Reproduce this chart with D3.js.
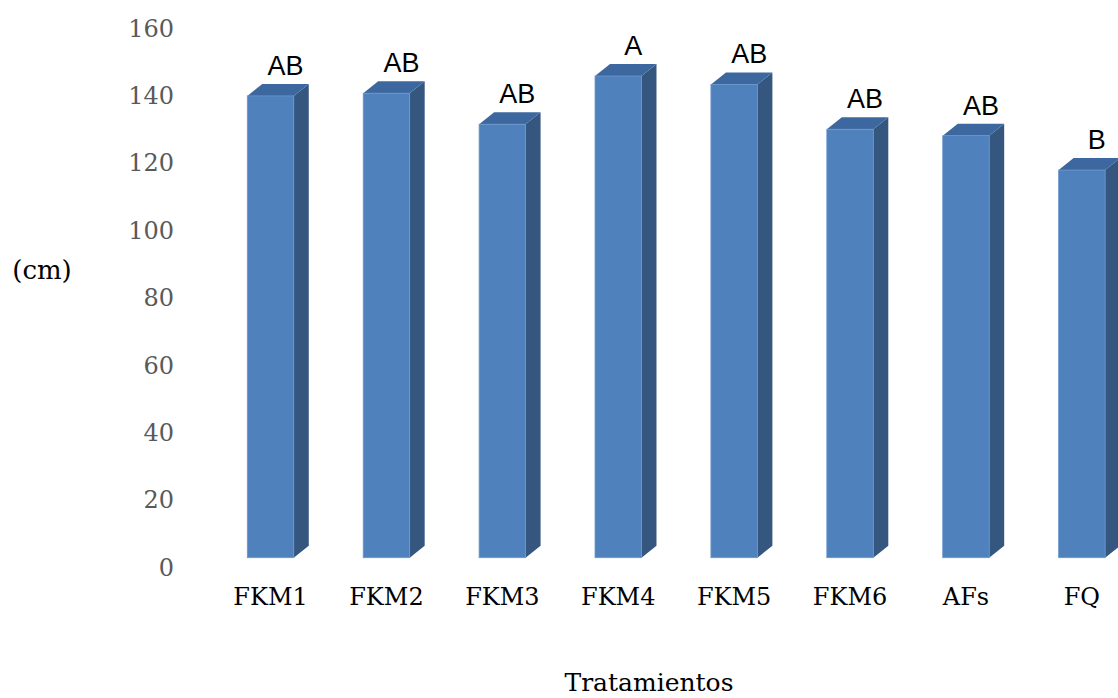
<!DOCTYPE html>
<html>
<head>
<meta charset="utf-8">
<script src="https://cdn.jsdelivr.net/npm/d3@7"></script>
<style>
  html, body { margin: 0; padding: 0; background: #ffffff; }
  svg { display: block; }
</style>
</head>
<body>
<svg id="chart" width="1118" height="698"></svg>
<script>
// ---- data ----
const categories = ["FKM1", "FKM2", "FKM3", "FKM4", "FKM5", "FKM6", "AFs", "FQ"];
const values = [139.7, 140.5, 131.3, 145.6, 143.1, 129.8, 127.9, 117.7];
const letters = ["AB", "AB", "AB", "A", "AB", "AB", "AB", "B"];
const yTicks = [0, 20, 40, 60, 80, 100, 120, 140, 160];
const yAxisTitle = "(cm)";
const xAxisTitle = "Tratamientos";

// ---- layout ----
const svg = d3.select("#chart");
const depthX = 15, depthY = 12, floorLift = 9;

const x = d3.scaleBand()
  .domain(categories)
  .range([247.3, 1105.1])
  .paddingInner(0.599)
  .paddingOuter(0);

const y = d3.scaleLinear().domain([0, 160]).range([566.7, 27.5]);

// y tick labels (no axis line)
const yAxis = d3.axisLeft(y).tickValues(yTicks).tickSize(0).tickPadding(0);
const gy = svg.append("g").attr("transform", "translate(174,0)").call(yAxis);
gy.select(".domain").remove();
gy.selectAll("text")
  .attr("font-family", "'DejaVu Serif', serif")
  .attr("font-size", 24)
  .attr("fill", "#595959")
  .attr("dy", "0.36em");

// bars
const bw = x.bandwidth();
const floorY = y(0) - floorLift;
const bars = svg.append("g").selectAll("g.bar")
  .data(categories.map((c, i) => ({ c, v: values[i], l: letters[i] })))
  .join("g").attr("class", "bar");

bars.append("polygon") // side
  .attr("points", d => {
    const xr = x(d.c) + bw, yt = y(d.v);
    return [[xr, yt], [xr + depthX, yt - depthY], [xr + depthX, floorY - depthY], [xr, floorY]].join(" ");
  })
  .attr("fill", "#34567f");

bars.append("polygon") // top
  .attr("points", d => {
    const xl = x(d.c), xr = xl + bw, yt = y(d.v);
    return [[xl, yt], [xl + depthX, yt - depthY], [xr + depthX, yt - depthY], [xr, yt]].join(" ");
  })
  .attr("fill", "#3d689f");

bars.append("rect") // front
  .attr("x", d => x(d.c))
  .attr("y", d => y(d.v))
  .attr("width", bw)
  .attr("height", d => floorY - y(d.v))
  .attr("fill", "#4f81bd")
  .attr("stroke", "#6a96cc")
  .attr("stroke-width", 0.8);

// significance letters
bars.append("text")
  .attr("x", d => x(d.c) + bw / 2 + depthX)
  .attr("y", d => y(d.v) - depthY - 9)
  .attr("text-anchor", "middle")
  .attr("font-family", "'Liberation Sans', Arial, sans-serif")
  .attr("font-size", 27)
  .attr("fill", "#000")
  .text(d => d.l);

// category labels
svg.append("g").selectAll("text")
  .data(categories)
  .join("text")
  .attr("x", d => x(d) + bw / 2)
  .attr("y", y(0) + 38)
  .attr("text-anchor", "middle")
  .attr("font-family", "'DejaVu Serif', serif")
  .attr("font-size", 24)
  .attr("fill", "#000")
  .text(d => d);

// axis titles
svg.append("text")
  .attr("x", 42).attr("y", 279)
  .attr("text-anchor", "middle")
  .attr("font-family", "'DejaVu Serif', serif")
  .attr("font-size", 26)
  .attr("fill", "#000")
  .text(yAxisTitle);

svg.append("text")
  .attr("x", 649).attr("y", 691)
  .attr("text-anchor", "middle")
  .attr("font-family", "'DejaVu Serif', serif")
  .attr("font-size", 25)
  .attr("fill", "#000")
  .text(xAxisTitle);
</script>
</body>
</html>
